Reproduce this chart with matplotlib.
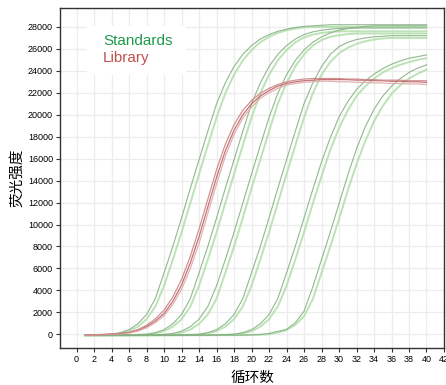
import numpy as np
import matplotlib
matplotlib.use('Agg')
import matplotlib.pyplot as plt
from matplotlib.patches import Rectangle

plt.rcParams['font.family'] = ['Liberation Sans', 'Noto Sans CJK SC', 'DejaVu Sans']

cycles = list(range(1, 41))

# standards (green), two replicates per dilution
std_1a = [-80, -60, -40, 0, 150, 420, 950, 1800, 3250, 5600, 8000, 10600, 13300, 15900, 18500, 21000,
          22900, 24400, 25500, 26300, 26900, 27300, 27600, 27800, 27950, 28050, 28100, 28150, 28200, 28200,
          28200, 28200, 28200, 28200, 28200, 28200, 28200, 28200, 28200, 28200]
std_1b = [-80, -70, -50, -20, 75, 285, 685, 1375, 2525, 4425, 6800, 9300, 11950, 14600, 17200, 19750,
          21950, 23650, 24950, 25900, 26600, 27100, 27450, 27700, 27850, 27950, 28000, 28000, 28000, 28000,
          28000, 28000, 28000, 28000, 28000, 28000, 28000, 28000, 28000, 28000]
std_2a = [-90, -85, -80, -80, -80, -60, -40, 0, 150, 420, 950, 1800, 3250, 5600, 8000, 10600,
          13300, 15900, 18500, 21000, 22900, 24400, 25500, 26300, 26900, 27300, 27550, 27700, 27800, 27850,
          27900, 27900, 27900, 27900, 27900, 27900, 27900, 27900, 27900, 27900]
std_2b = [-90, -85, -80, -80, -80, -70, -50, -20, 75, 285, 685, 1375, 2525, 4425, 6800, 9300,
          11950, 14600, 17200, 19750, 21950, 23650, 24950, 25900, 26600, 27050, 27300, 27450, 27550, 27600,
          27600, 27600, 27600, 27600, 27600, 27600, 27600, 27600, 27600, 27600]
std_3a = [-90, -90, -85, -85, -80, -80, -80, -70, -50, -20, 75, 285, 685, 1375, 2525, 4425,
          6800, 9300, 11950, 14600, 17200, 19750, 21950, 23650, 24950, 25900, 26600, 27100, 27450, 27700,
          27850, 27950, 28050, 28100, 28100, 28100, 28100, 28100, 28100, 28100]
std_3b = [-90, -90, -90, -85, -85, -80, -80, -80, -60, -40, 0, 150, 420, 950, 1800, 3250,
          5600, 8000, 10600, 13300, 15900, 18500, 21000, 22900, 24400, 25500, 26300, 26800, 27100, 27250,
          27350, 27400, 27400, 27400, 27400, 27400, 27400, 27400, 27400, 27400]
std_4a = [-100, -95, -95, -90, -90, -90, -85, -85, -80, -80, -80, -60, -40, 0, 150, 420,
          950, 1800, 3250, 5600, 8000, 10600, 13300, 15900, 18500, 21000, 22900, 24400, 25500, 26200,
          26600, 26850, 27000, 27100, 27150, 27200, 27200, 27200, 27200, 27200]
std_4b = [-100, -95, -95, -90, -90, -90, -85, -85, -80, -80, -80, -70, -50, -20, 75, 285,
          685, 1375, 2525, 4425, 6800, 9300, 11950, 14600, 17200, 19750, 21950, 23650, 24800, 25600,
          26100, 26450, 26700, 26850, 26950, 27000, 27000, 27000, 27000, 27000]
std_5a = [-100, -100, -95, -95, -90, -90, -90, -85, -85, -85, -80, -80, -80, -80, -80, -60,
          -40, 0, 150, 420, 950, 1800, 3250, 5600, 8000, 10600, 13200, 15700, 17900, 19800,
          21200, 22300, 23100, 23700, 24200, 24600, 24900, 25150, 25300, 25450]
std_5b = [-100, -100, -95, -95, -90, -90, -90, -85, -85, -85, -80, -80, -80, -80, -80, -70,
          -50, -20, 75, 285, 685, 1375, 2525, 4425, 6800, 9300, 11900, 14400, 16800, 18800,
          20400, 21700, 22600, 23300, 23850, 24250, 24550, 24800, 25000, 25150]
std_6a = [-100, -100, -100, -95, -95, -95, -90, -90, -90, -85, -85, -85, -80, -80, -80, -80,
          -80, -80, -70, -50, -20, 75, 260, 450, 1050, 2100, 4300, 6800, 9300, 11900,
          14500, 16900, 18900, 20500, 21700, 22600, 23300, 23850, 24250, 24550]
std_6b = [-100, -100, -100, -95, -95, -95, -90, -90, -90, -85, -85, -85, -80, -80, -80, -80,
          -80, -80, -80, -60, -40, 0, 150, 380, 850, 1650, 3200, 5600, 8000, 10500,
          13100, 15500, 17600, 19400, 20800, 21900, 22700, 23300, 23750, 24100]

# library (red)
lib_a = [-80, -60, -30, 10, 60, 150, 350, 700, 1200, 1900, 3000, 4500, 6500, 8900, 11600, 14300,
         16700, 18600, 20000, 21000, 21700, 22200, 22600, 22850, 23000, 23100, 23150, 23200, 23200, 23200,
         23200, 23150, 23150, 23100, 23100, 23050, 23050, 23000, 23000, 22950]
lib_b = [-90, -70, -40, 0, 40, 120, 280, 580, 1050, 1700, 2700, 4100, 6000, 8300, 11000, 13700,
         16200, 18200, 19700, 20700, 21500, 22000, 22400, 22700, 22850, 22950, 23000, 23050, 23050, 23000,
         23000, 22950, 22950, 22900, 22900, 22850, 22850, 22800, 22800, 22750]
lib_c = [-70, -50, -20, 20, 80, 190, 420, 820, 1400, 2200, 3400, 5000, 7100, 9600, 12300, 15000,
         17300, 19100, 20400, 21300, 21950, 22400, 22750, 23000, 23150, 23250, 23300, 23300, 23300, 23300,
         23250, 23250, 23200, 23200, 23150, 23150, 23150, 23100, 23100, 23100]

standards_a = [std_1a, std_2a, std_3a, std_4a, std_5a, std_6a]
standards_b = [std_1b, std_2b, std_3b, std_4b, std_5b, std_6b]
library = [lib_a, lib_b, lib_c]

fig = plt.figure(figsize=(4.46, 3.85), dpi=100)
ax = fig.add_axes([0.1345, 0.097, 0.861, 0.8815])

for s in standards_b:
    ax.plot(cycles, s, color='#b0dea8', lw=1.4, alpha=0.85)
for s in standards_a:
    ax.plot(cycles, s, color='#86b083', lw=0.8, alpha=0.9)
for i, s in enumerate(library):
    ax.plot(cycles, s, color=['#bf6466', '#dfaaaa', '#cc8588'][i], lw=0.9, alpha=0.9)

ax.set_xlim(-1.9, 41.7)
ax.set_ylim(-1220, 29700)
ax.set_xticks(range(0, 43, 2))
ax.set_yticks(range(0, 28001, 2000))
ax.tick_params(labelsize=6.5, length=3, width=0.8, color='#333333', pad=2)
ax.grid(True, color='#ececec', lw=0.9)
ax.set_axisbelow(True)
for sp in ax.spines.values():
    sp.set_color('#333333')
    sp.set_linewidth(1.0)

ax.set_ylabel('荧光强度', fontsize=10.5, family=['Noto Sans CJK SC'], labelpad=3)
ax.set_xlabel('循环数', fontsize=10.5, family=['Noto Sans CJK SC'], labelpad=5)

# legend: white box with coloured labels
ax.add_patch(Rectangle((0.070, 0.803), 0.258, 0.144, transform=ax.transAxes,
                       facecolor='white', edgecolor='none', zorder=5))
ax.text(0.112, 0.892, 'Standards', transform=ax.transAxes, fontsize=11,
        color='#1f9a4c', va='baseline', zorder=6)
ax.text(0.112, 0.843, 'Library', transform=ax.transAxes, fontsize=11,
        color='#c0504d', va='baseline', zorder=6)

fig.savefig('out.png', dpi=100)
